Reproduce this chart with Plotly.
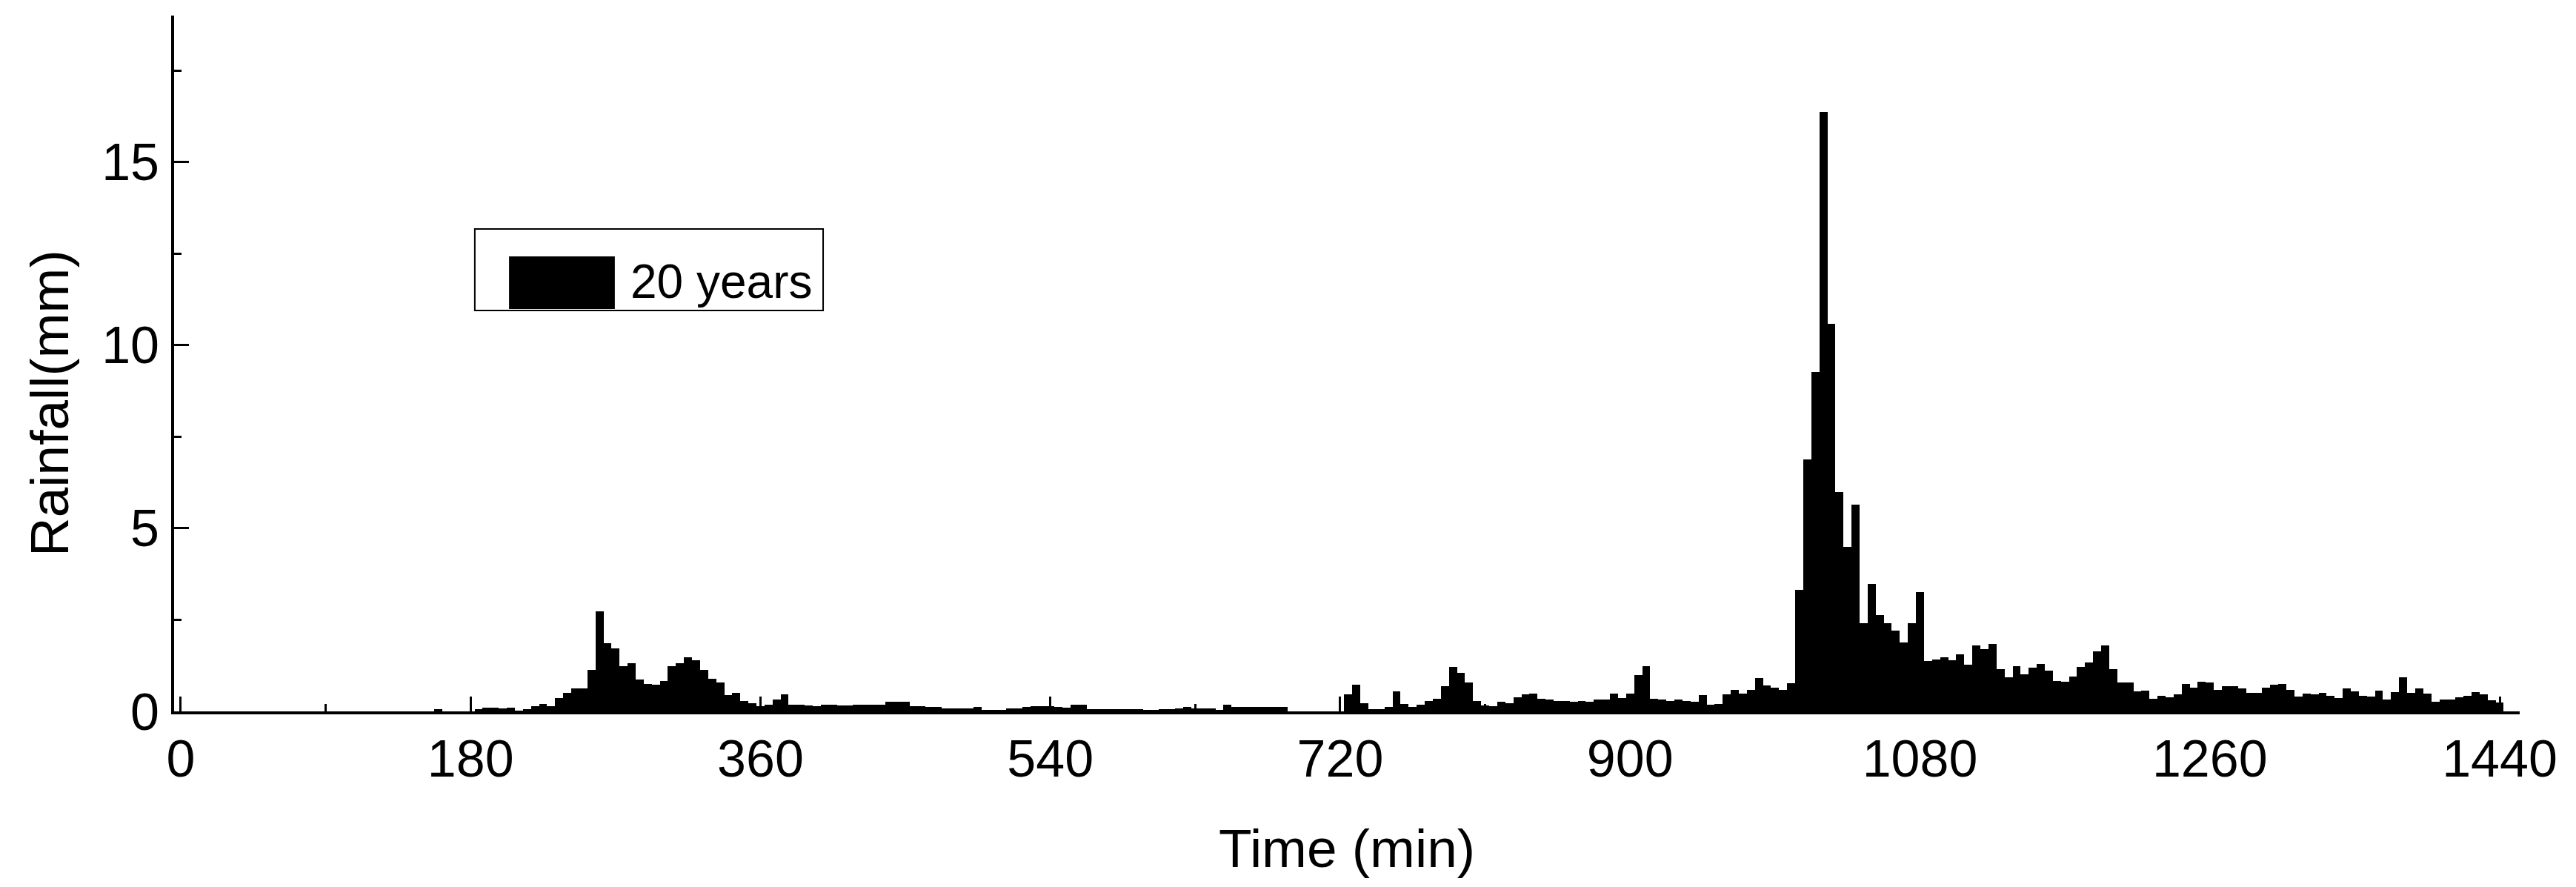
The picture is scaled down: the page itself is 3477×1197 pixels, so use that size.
import plotly.graph_objects as go

# Rainfall hyetograph, 5-min steps over one day (20-year return period)
time_min = list(range(5, 1445, 5))

# values, one row per hour (12 bars each)
rain_mm = [
    0, 0, 0, 0, 0, 0, 0, 0, 0, 0, 0, 0,                                   # 5-60
    0, 0, 0, 0, 0, 0, 0, 0, 0, 0, 0, 0,                                   # 65-120
    0, 0, 0, 0, 0, 0, 0, 0.07, 0, 0, 0, 0,                                # 125-180
    0.06, 0.11, 0.11, 0.09, 0.11, 0.02, 0.06, 0.15, 0.20, 0.15, 0.36, 0.50,  # 185-240
    0.62, 0.62, 1.13, 2.74, 1.87, 1.71, 1.23, 1.31, 0.87, 0.75, 0.73, 0.83,  # 245-300
    1.24, 1.31, 1.47, 1.40, 1.13, 0.89, 0.78, 0.44, 0.50, 0.28, 0.22, 0.15,  # 305-360
    0.18, 0.32, 0.46, 0.18, 0.18, 0.16, 0.14, 0.18, 0.18, 0.16, 0.16, 0.18,  # 365-420
    0.18, 0.18, 0.18, 0.26, 0.26, 0.26, 0.14, 0.14, 0.12, 0.12, 0.09, 0.09,  # 425-480
    0.09, 0.09, 0.12, 0.05, 0.05, 0.04, 0.08, 0.09, 0.12, 0.14, 0.14, 0.14,  # 485-540
    0.12, 0.10, 0.18, 0.18, 0.06, 0.07, 0.07, 0.07, 0.06, 0.06, 0.06, 0.05,  # 545-600
    0.05, 0.06, 0.06, 0.09, 0.12, 0.09, 0.09, 0.09, 0.03, 0.18, 0.12, 0.12,  # 605-660
    0.12, 0.12, 0.12, 0.12, 0.12, 0, 0, 0, 0, 0, 0, 0,                      # 665-720
    0.46, 0.73, 0.22, 0.06, 0.06, 0.12, 0.54, 0.20, 0.12, 0.18, 0.28, 0.34,  # 725-780
    0.69, 1.21, 1.05, 0.79, 0.28, 0.16, 0.14, 0.26, 0.22, 0.38, 0.46, 0.48,  # 785-840
    0.34, 0.32, 0.28, 0.28, 0.26, 0.28, 0.26, 0.32, 0.32, 0.48, 0.36, 0.48,  # 845-900
    0.99, 1.23, 0.34, 0.32, 0.28, 0.32, 0.28, 0.26, 0.44, 0.18, 0.20, 0.46,  # 905-960
    0.58, 0.48, 0.58, 0.91, 0.71, 0.64, 0.58, 0.77, 3.32, 6.87, 9.27, 16.37,  # 965-1020
    10.59, 5.98, 4.50, 5.65, 2.40, 3.48, 2.63, 2.40, 2.20, 1.89, 2.40, 3.26,  # 1025-1080
    1.38, 1.42, 1.48, 1.39, 1.55, 1.27, 1.80, 1.70, 1.85, 1.16, 0.93, 1.23,  # 1085-1140
    1.01, 1.19, 1.29, 1.12, 0.83, 0.81, 0.95, 1.21, 1.33, 1.63, 1.81, 1.15,  # 1145-1200
    0.79, 0.79, 0.54, 0.56, 0.34, 0.42, 0.38, 0.46, 0.75, 0.65, 0.81, 0.79,  # 1205-1260
    0.58, 0.68, 0.68, 0.62, 0.50, 0.50, 0.65, 0.73, 0.74, 0.58, 0.40, 0.48,  # 1265-1320
    0.46, 0.50, 0.42, 0.36, 0.62, 0.54, 0.42, 0.40, 0.56, 0.32, 0.52, 0.93,  # 1325-1380
    0.50, 0.62, 0.48, 0.26, 0.32, 0.32, 0.38, 0.42, 0.52, 0.46, 0.30, 0.24,  # 1385-1440
]

x_ticks = [0, 180, 360, 540, 720, 900, 1080, 1260, 1440]
y_ticks = [0, 5, 10, 15]
series_name = "20 years"

FONT = "Arial, Liberation Sans, sans-serif"

fig = go.Figure()
fig.add_trace(go.Bar(
    x=time_min, y=rain_mm, width=5,
    marker=dict(color="black", line=dict(width=0)),
    name=series_name, showlegend=False,
))

axis_common = dict(
    showline=True, linecolor="black", linewidth=4, mirror=False,
    showgrid=False, zeroline=False,
    ticks="inside", ticklen=20, tickwidth=3, tickcolor="black",
    tickfont=dict(family=FONT, size=70, color="black"),
)

fig.update_xaxes(
    **axis_common,
    range=[-4.1, 1452.4], tickvals=x_ticks, ticklabelstandoff=0,
    minor=dict(ticks="inside", ticklen=10, tickwidth=3, tickcolor="black", dtick=90, tick0=0),
)
fig.update_yaxes(
    **axis_common,
    range=[0, 19], tickvals=y_ticks, ticklabelstandoff=2,
    minor=dict(ticks="inside", ticklen=10, tickwidth=3, tickcolor="black", dtick=2.5, tick0=0),
)

# axis titles
fig.add_annotation(text="Time (min)", xref="paper", yref="paper", x=0.5, y=-0.196,
                   showarrow=False, xanchor="center", yanchor="middle",
                   font=dict(family=FONT, size=73, color="black"))
fig.add_annotation(text="Rainfall(mm)", xref="paper", yref="paper", x=-0.0534, y=0.443,
                   showarrow=False, textangle=-90, xanchor="center", yanchor="middle",
                   font=dict(family=FONT, size=73, color="black"))

# Origin-style legend box
fig.add_shape(type="rect", xref="paper", yref="paper", x0=0.1282, x1=0.2767, y0=0.5761, y1=0.6933,
              line=dict(color="black", width=2), fillcolor="white")
fig.add_shape(type="rect", xref="paper", yref="paper", x0=0.1428, x1=0.1879, y0=0.5783, y1=0.6539,
              line=dict(width=0), fillcolor="black")
fig.add_annotation(text=series_name, xref="paper", yref="paper", x=0.1939, y=0.618,
                   showarrow=False, xanchor="left", yanchor="middle",
                   font=dict(family=FONT, size=64, color="black"))

# margins allow for the 8px default body margin of the html page
fig.update_layout(
    width=3477, height=1197,
    margin=dict(l=227, r=84, t=13, b=245),
    paper_bgcolor="white", plot_bgcolor="white",
    bargap=0,
)

fig.write_html("out.html")
